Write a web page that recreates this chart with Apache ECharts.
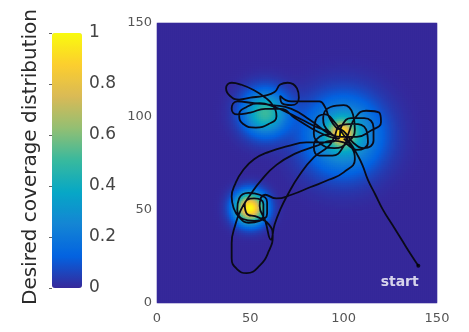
<!DOCTYPE html>
<html>
<head>
<meta charset="utf-8">
<script src="https://cdn.jsdelivr.net/npm/echarts@6/dist/echarts.min.js"></script>
<style>
html,body{margin:0;padding:0;background:#fff;}
#chart{width:469px;height:332px;}
</style>
</head>
<body>
<div id="chart"></div>
<script>
// ---- data ----
// Desired coverage distribution: Gaussian components (centre, spread, peak)
const blobX = [50, 99, 100, 58];
const blobY = [51, 91, 90, 102];
const blobSigma = [5.5, 4.5, 13.5, 8];
const blobPeak = [1.0, 0.55, 0.42, 0.5];

// Agent trajectory (x, y), from the start point onward
const pathX = [140,136,131,126,121,117,113,110,107,104,
  100,95,90,85,84,88,95,102,106,105,100,93,89,92,99,107,114,120,119,112,106,103,100,94,87,84,87,93,
  86,78,70,63,55,48,44,46,53,60,64,
  62,58,52,45,40,37,39,44,50,57,63,66,70,75,76,72,67,66,
  72,80,87,90,92,96,
  100,105,111,116,116,111,104,99,97,
  90,82,74,66,58,50,43,40,43,52,62,72,82,90,96,
  90,80,70,60,52,46,42,40,41,44,49,55,59,59,55,49,44,43,46,52,57,57,52,47,48,
  54,60,62,60,55,48,43,40,40,42,45,50,56,64,74,85,94,
  100,107,113,112,105,98,95,
  92,84,76,70,66,63,61,
  58,55,58,64,72,82,92,100,106,104,100];
const pathY = [20,26,34,42,50,58,66,74,80,85,
  90,97,101,98,91,85,83,86,93,101,106,105,99,92,89,89,92,97,102,103,99,92,84,79,79,84,89,91,
  94,98,102,105,107,105,101,96,94,96,100,
  106,110,114,117,118,115,111,109,110,111,113,117,118,115,110,106,107,111,
  108,108,108,105,100,94,
  92,86,83,87,94,99,99,95,88,
  90,94,99,104,104,102,101,104,108,107,106,104,98,92,88,
  86,86,84,81,77,71,64,57,51,46,43,44,48,54,58,59,56,50,45,44,47,53,56,53,48,
  46,42,36,28,20,16,18,24,32,42,50,58,66,74,80,84,87,
  86,82,86,93,96,95,89,
  84,78,68,58,50,42,34,
  44,52,58,56,58,62,66,70,77,84,88];

const startPoint = [140, 20];
const startLabel = 'start';
const startLabelPos = [130, 11];

const axisTicks = [0, 50, 100, 150];
const colorbarTicks = [0, 0.2, 0.4, 0.6, 0.8, 1];
const colorbarTitle = 'Desired coverage distribution';
const parula = ['#36289a', '#0363e1', '#1485d4', '#06a7c6', '#38b99e', '#92bf73', '#d9ba56', '#fcce2e', '#f9fb0e'];

// ---- build options ----
const cells = 140;
const cellSize = 150 / cells;
const cats = [];
for (let i = 0; i < cells; i++) cats.push(String(i));
const heat = [];
for (let i = 0; i < cells; i++) {
  for (let j = 0; j < cells; j++) {
    const x = (i + 0.5) * cellSize, y = (j + 0.5) * cellSize;
    let v = 0;
    for (let k = 0; k < blobX.length; k++) {
      const dx = x - blobX[k], dy = y - blobY[k];
      v += blobPeak[k] * Math.exp(-(dx * dx + dy * dy) / (2 * blobSigma[k] * blobSigma[k]));
    }
    heat.push([i, j, Math.min(1, v)]);
  }
}
const path = pathX.map((x, i) => [x, pathY[i]]);

const labelFont = 'DejaVu Sans';
const chart = echarts.init(document.getElementById('chart'), null, {renderer: 'canvas'});
chart.setOption({
  animation: false,
  backgroundColor: '#ffffff',
  grid: [
    {left: 157, top: 23, width: 280, height: 280, show: true, backgroundColor: parula[0], borderWidth: 0},
    {left: 52, top: 33, width: 30, height: 255}
  ],
  xAxis: [
    {type: 'category', data: cats, gridIndex: 0, show: false, position: 'bottom'},
    {type: 'value', gridIndex: 0, min: axisTicks[0], max: axisTicks[axisTicks.length - 1], interval: 50, position: 'bottom',
      axisLine: {show: false}, axisTick: {show: false}, splitLine: {show: false},
      axisLabel: {color: '#555', fontSize: 13, fontFamily: labelFont, margin: 9}},
    {type: 'value', gridIndex: 1, show: false}
  ],
  yAxis: [
    {type: 'category', data: cats, gridIndex: 0, show: false, position: 'left'},
    {type: 'value', gridIndex: 0, min: axisTicks[0], max: axisTicks[axisTicks.length - 1], interval: 50, position: 'left',
      axisLine: {show: false}, axisTick: {show: false}, splitLine: {show: false},
      axisLabel: {color: '#555', fontSize: 13, fontFamily: labelFont, margin: 5}},
    {type: 'value', gridIndex: 1, min: colorbarTicks[0], max: colorbarTicks[colorbarTicks.length - 1], interval: 0.2, position: 'right', z: 10,
      axisLine: {show: false}, splitLine: {show: false},
      axisTick: {show: true, inside: true, length: 3, lineStyle: {color: '#666'}},
      axisLabel: {color: '#444', fontSize: 17, fontFamily: labelFont, margin: 7,
        formatter: v => String(+(+v).toFixed(1))}}
  ],
  visualMap: {
    type: 'continuous', min: 0, max: 1, seriesIndex: 0, dimension: 2,
    calculable: false, orient: 'vertical', left: 52, top: 33, itemWidth: 30, itemHeight: 255,
    padding: 0, borderWidth: 0, text: null, hoverLink: false,
    inRange: {color: parula}
  },
  graphic: [{
    type: 'text', x: 31, y: 157, rotation: Math.PI / 2,
    style: {text: colorbarTitle, font: '20px "DejaVu Sans"', fill: '#2a2a2a', textAlign: 'center', textVerticalAlign: 'middle'}
  }],
  series: [
    {type: 'heatmap', xAxisIndex: 0, yAxisIndex: 0, data: heat, progressive: 0, silent: true},
    {type: 'line', xAxisIndex: 1, yAxisIndex: 1, data: path, smooth: 0.5, showSymbol: false, symbol: 'none',
      lineStyle: {color: '#0a0a18', width: 1.8}, silent: true, z: 5},
    {type: 'scatter', xAxisIndex: 1, yAxisIndex: 1, data: [startPoint], symbolSize: 4,
      itemStyle: {color: '#000'}, silent: true, z: 6},
    {type: 'scatter', xAxisIndex: 1, yAxisIndex: 1, data: [startLabelPos], symbolSize: 0, silent: true, z: 6,
      label: {show: true, position: 'inside', formatter: startLabel, color: '#ffffff', fontSize: 14, fontWeight: 'bold', fontFamily: labelFont}}
  ]
});
</script>
</body>
</html>
